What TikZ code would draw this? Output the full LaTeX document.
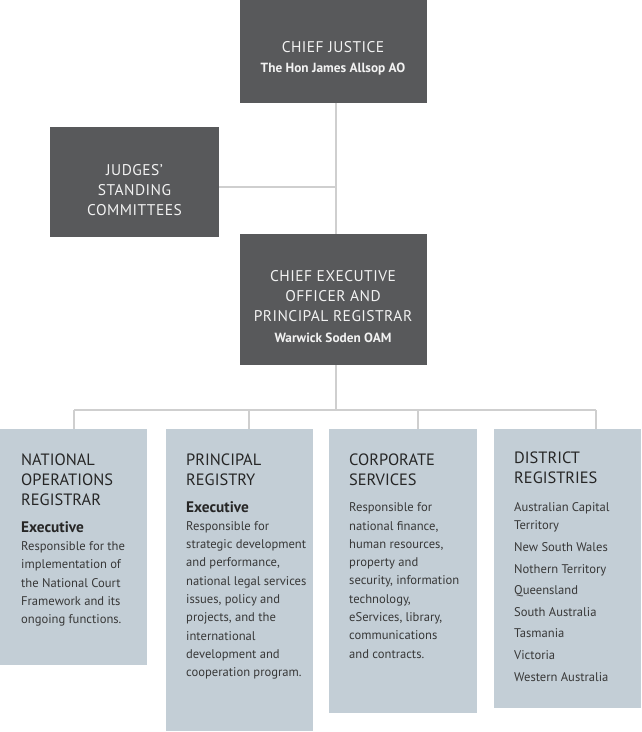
\documentclass[tikz,border=0pt]{standalone}
\usepackage{fontspec}
\setmainfont{PT Sans}
\definecolor{darkfill}{HTML}{58595B}
\definecolor{lightfill}{HTML}{C3CED6}
\definecolor{linecol}{HTML}{CFCFCF}
\definecolor{darktext}{HTML}{F2F2F2}
\definecolor{boxtext}{HTML}{262626}
\definecolor{bodytext}{HTML}{383838}
\newcommand{\boxtitle}{\fontsize{16.4}{20.3}\selectfont\color{boxtext}}
\newcommand{\boxexec}{\fontsize{15.3}{26.4}\selectfont\bfseries\color{boxtext}}
\newcommand{\boxbody}{\fontsize{12.6}{18.3}\selectfont\mdseries\color{bodytext}}
\newcommand{\darkcaps}{\fontsize{15.5}{20}\selectfont\addfontfeature{LetterSpace=3}}
\newcommand{\darkname}{\fontsize{13.3}{16}\selectfont\bfseries}
\begin{document}
\begin{tikzpicture}[x=1pt,y=-1pt,
  darkbox/.style={rectangle,fill=darkfill,draw=none,inner sep=0pt},
  lightbox/.style={rectangle,fill=lightfill,draw=none,inner sep=0pt},
  darklabel/.style={anchor=base,inner sep=0pt,text=darktext},
  boxlabel/.style={anchor=north west,inner sep=0pt,text width=140pt,align=left},
  conn/.style={draw=linecol,line width=1.5pt}]
\useasboundingbox (0,0) rectangle (642,732);
% dark boxes
\node[darkbox,minimum width=187pt,minimum height=103pt] (cj) at (333,51.5) {};
\node[darkbox,minimum width=169pt,minimum height=110pt] (jsc) at (134.5,182) {};
\node[darkbox,minimum width=187pt,minimum height=131pt] (ceo) at (333,299.5) {};
% light boxes
\node[lightbox,minimum width=147pt,minimum height=236pt] (b1) at (73.5,547) {};
\node[lightbox,minimum width=147pt,minimum height=302pt] (b2) at (239.5,580) {};
\node[lightbox,minimum width=148pt,minimum height=284pt] (b3) at (403,571) {};
\node[lightbox,minimum width=147pt,minimum height=279pt] (b4) at (567.5,568.5) {};
% connector coordinates
\coordinate (cjb) at (336,103);
\coordinate (ceot) at (336,234);
\coordinate (jj) at (336,187);
\coordinate (ceob) at (336,365);
\coordinate (bus) at (336,410);
\coordinate (d1) at (74,410);
\coordinate (d2) at (249,410);
\coordinate (d3) at (418,410);
\coordinate (d4) at (596,410);
\draw[conn] (cjb) -- (ceot);
\draw[conn] (jj) -- (jj -| jsc.east);
\draw[conn] (ceob) -- (bus);
\draw[conn] (d1) -- (d4);
\draw[conn] (d1) -- (d1 |- b1.north);
\draw[conn] (d2) -- (d2 |- b2.north);
\draw[conn] (d3) -- (d3 |- b3.north);
\draw[conn] (d4) -- (d4 |- b4.north);
% dark labels
\node[darklabel,font=\darkcaps] (cjt) at (333,52.3) {CHIEF JUSTICE};
\node[darklabel,font=\darkname] (cjn) at (333,72.3) {The Hon James Allsop AO};
\node[darklabel,font=\darkcaps] (jsc1) at (134.5,175) {JUDGES’};
\node[darklabel,font=\darkcaps] (jsc2) at (134.5,195) {STANDING};
\node[darklabel,font=\darkcaps] (jsc3) at (134.5,215) {COMMITTEES};
\node[darklabel,font=\darkcaps] (ceo1) at (333,281.7) {CHIEF EXECUTIVE};
\node[darklabel,font=\darkcaps] (ceo2) at (333,301.7) {OFFICER AND};
\node[darklabel,font=\darkcaps] (ceo3) at (333,321.7) {PRINCIPAL REGISTRAR};
\node[darklabel,font=\darkname] (ceon) at (333,342.3) {Warwick Soden OAM};
% light labels
\node[boxlabel] (t1) at (21,453.5) {\boxtitle NATIONAL\\OPERATIONS\\REGISTRAR\par
\boxexec Executive\par
\boxbody Responsible for the\\implementation of\\the National Court\\Framework and its\\ongoing functions.\par};
\node[boxlabel] (t2) at (186,453.5) {\boxtitle PRINCIPAL\\REGISTRY\par
\boxexec Executive\par
\boxbody Responsible for\\strategic development\\and performance,\\national legal services\\issues, policy and\\projects, and the\\international\\development and\\cooperation program.\par};
\node[boxlabel] (t3) at (349,453.5) {\boxtitle CORPORATE\\SERVICES\par
\vspace{7.8pt}\boxbody Responsible for\\national finance,\\human resources,\\property and\\security, information\\technology,\\eServices, library,\\communications\\and contracts.\par};
\node[boxlabel] (t4) at (514,451.5) {\boxtitle DISTRICT\\REGISTRIES\par
\vspace{9.7pt}\boxbody Australian Capital\\Territory\\[3.3pt]New South Wales\\[3.3pt]Nothern Territory\\[3.3pt]Queensland\\[3.3pt]South Australia\\[3.3pt]Tasmania\\[3.3pt]Victoria\\[3.3pt]Western Australia\par};
\end{tikzpicture}
\end{document}
